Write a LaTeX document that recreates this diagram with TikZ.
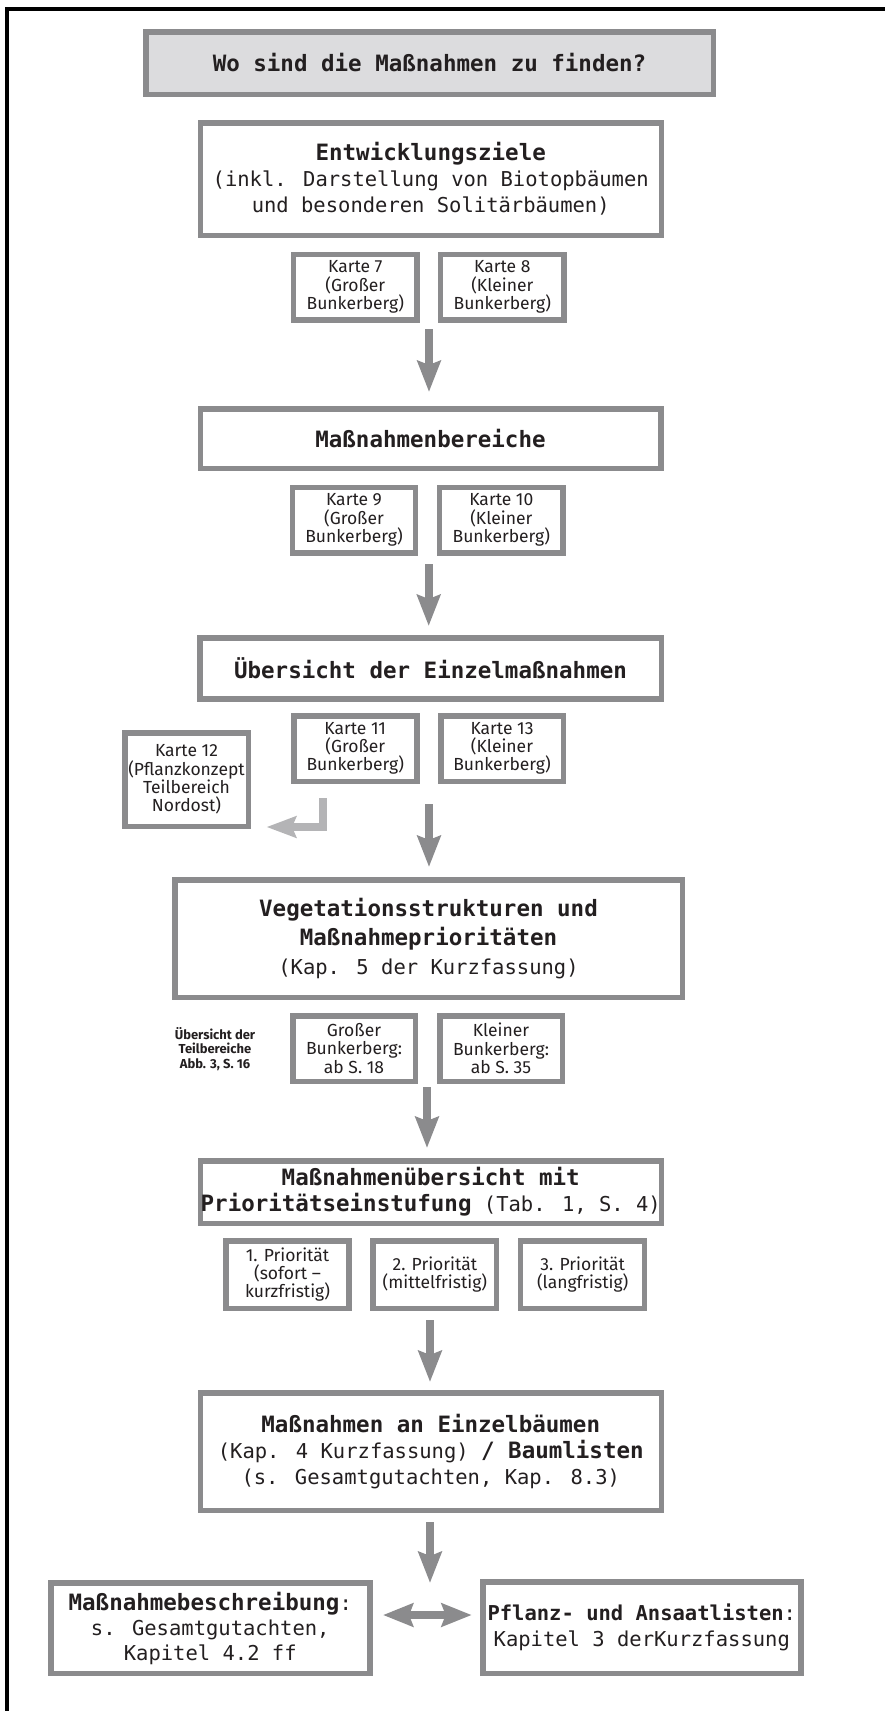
\documentclass[tikz,border=0pt]{standalone}
\usepackage{fontspec}
\usetikzlibrary{arrows.meta}
\newfontfamily\monof{DejaVu Sans Mono}
\newfontfamily\firaf{Fira Sans}
\definecolor{boxgray}{HTML}{8B8B8D}
\definecolor{titlefill}{HTML}{DCDCDE}
\definecolor{lightarrow}{HTML}{B4B4B6}
\definecolor{txt}{HTML}{231F20}
\newcommand\hd[1]{{\fontsize{22.5}{26}\selectfont\bfseries #1}}
\begin{document}
\begin{tikzpicture}[x=1pt,y=-1pt,
  box/.style={draw=boxgray, line width=5.5pt, fill=white, inner sep=0pt, align=center, text=txt},
  bigbox/.style={box, font=\monof\fontsize{20.5}{26}\selectfont},
  smallbox/.style={box, font=\firaf\fontsize{17.5}{18.3}\selectfont, minimum height=65.5pt},
  bigarrow/.style={draw=boxgray, line width=8pt, -{Stealth[length=31pt,width=23pt,inset=4pt]}},
  dblarrow/.style={draw=boxgray, line width=8pt, {Stealth[length=30pt,width=23pt,inset=4pt]}-{Stealth[length=30pt,width=23pt,inset=4pt]}},
  bentarrow/.style={draw=lightarrow, line width=8pt, -{Stealth[length=29.5pt,width=21pt,inset=4pt]}}
]
\useasboundingbox (0,0) rectangle (885,1711);
% frame
\draw[line width=4pt, black] (7,1711) -- (7,9) -- (885,9);

% title
\node[bigbox, fill=titlefill, minimum width=567.5pt, minimum height=62.5pt] (title) at (429.5,63)
  {\hd{Wo sind die Maßnahmen zu finden?}};

% Entwicklungsziele
\node[bigbox, minimum width=461pt, minimum height=112.5pt] (ent) at (430.75,179)
  {\hd{Entwicklungsziele}\\(inkl. Darstellung von Biotopbäumen\\und besonderen Solitärbäumen)};
\node[smallbox, minimum width=123.5pt] (k7) at (355.3,287) {Karte 7\\(Großer\\Bunkerberg)};
\node[smallbox, minimum width=123.5pt] (k8) at (502.3,287) {Karte 8\\(Kleiner\\Bunkerberg)};

% Massnahmenbereiche
\node[bigbox, minimum width=460.5pt, minimum height=59.5pt] (mb) at (430.5,438.5)
  {\hd{Maßnahmenbereiche}};
\node[smallbox, minimum width=123pt] (k9) at (354,520) {Karte 9\\(Großer\\Bunkerberg)};
\node[smallbox, minimum width=123.5pt] (k10) at (501.3,520) {Karte 10\\(Kleiner\\Bunkerberg)};

% Uebersicht Einzelmassnahmen
\node[bigbox, minimum width=461.5pt, minimum height=61pt] (ue) at (430.5,668.5)
  {\hd{Übersicht der Einzelmaßnahmen}};
\node[smallbox, minimum width=123pt] (k11) at (355.25,748.5) {Karte 11\\(Großer\\Bunkerberg)};
\node[smallbox, minimum width=122.5pt] (k13) at (502,748.5) {Karte 13\\(Kleiner\\Bunkerberg)};
\node[smallbox, minimum width=123.5pt, minimum height=93.5pt] (k12) at (186.5,779.5)
  {Karte 12\\(Pflanzkonzept\\Teilbereich\\Nordost)};

% Vegetationsstrukturen
\node[box, font=\monof\fontsize{20.5}{29}\selectfont, minimum width=507.5pt, minimum height=117.5pt] (veg) at (428.5,938.5)
  {\hd{Vegetationsstrukturen und}\\\hd{Maßnahmeprioritäten}\\(Kap. 5 der Kurzfassung)};
\node[align=center, text=txt, inner sep=0pt, font=\firaf\bfseries\fontsize{13}{14.7}\selectfont] (teil) at (215,1049)
  {Übersicht der\\Teilbereiche\\Abb. 3, S. 16};
\node[smallbox, minimum width=122.5pt] (gb) at (354,1048.5) {Großer\\Bunkerberg:\\ab S. 18};
\node[smallbox, minimum width=122.5pt] (kb) at (501,1048.5) {Kleiner\\Bunkerberg:\\ab S. 35};

% Massnahmenuebersicht
\node[bigbox, minimum width=461pt, minimum height=62.5pt] (mue) at (430.75,1192)
  {\hd{Maßnahmenübersicht mit}\\\hd{Prioritätseinstufung} (Tab. 1, S. 4)};
\node[smallbox, minimum width=123pt, minimum height=67.5pt] (p1) at (287.5,1274.5) {1. Priorität\\(sofort –\\kurzfristig)};
\node[smallbox, minimum width=123.5pt, minimum height=67.5pt] (p2) at (434.9,1274.5) {2. Priorität\\(mittelfristig)};
\node[smallbox, minimum width=124pt, minimum height=67.5pt] (p3) at (582.7,1274.5) {3. Priorität\\(langfristig)};

% Massnahmen an Einzelbaeumen
\node[bigbox, minimum width=461pt, minimum height=117.5pt] (mae) at (430.75,1451.5)
  {\hd{Maßnahmen an Einzelbäumen}\\(Kap. 4 Kurzfassung) \hd{/ Baumlisten}\\(s. Gesamtgutachten, Kap. 8.3)};

% bottom boxes
\node[bigbox, font=\monof\fontsize{20.5}{25}\selectfont, minimum width=319pt, minimum height=90.5pt] (mbs) at (210.25,1628)
  {\hd{Maßnahmebeschreibung}:\\s. Gesamtgutachten,\\Kapitel 4.2 ff};
\node[bigbox, minimum width=318pt, minimum height=91.5pt] (pal) at (641.8,1627.5)
  {{\fontsize{20.5}{26}\selectfont\bfseries Pflanz- und Ansaatlisten}:\\Kapitel 3 derKurzfassung};

% arrow coordinates
\coordinate (a1s) at (429,329);   \coordinate (a1e) at (429,392);
\coordinate (a2s) at (428.7,564); \coordinate (a2e) at (428.7,626);
\coordinate (a3s) at (429,804);   \coordinate (a3e) at (429,867);
\coordinate (a4s) at (427,1087);  \coordinate (a4e) at (427,1148);
\coordinate (a5s) at (430,1320);  \coordinate (a5e) at (430,1382);
\coordinate (a6s) at (430,1522);  \coordinate (a6e) at (430,1583);
\coordinate (dl) at (383,1615);   \coordinate (dr) at (471.7,1615);
\coordinate (ls) at (323.3,798);  \coordinate (le) at (266.5,827);

\draw[bigarrow] (a1s) -- (a1e);
\draw[bigarrow] (a2s) -- (a2e);
\draw[bigarrow] (a3s) -- (a3e);
\draw[bigarrow] (a4s) -- (a4e);
\draw[bigarrow] (a5s) -- (a5e);
\draw[bigarrow] (a6s) -- (a6e);
\draw[dblarrow] (dl) -- (dr);
\draw[bentarrow] (ls) |- (le);
\end{tikzpicture}
\end{document}
